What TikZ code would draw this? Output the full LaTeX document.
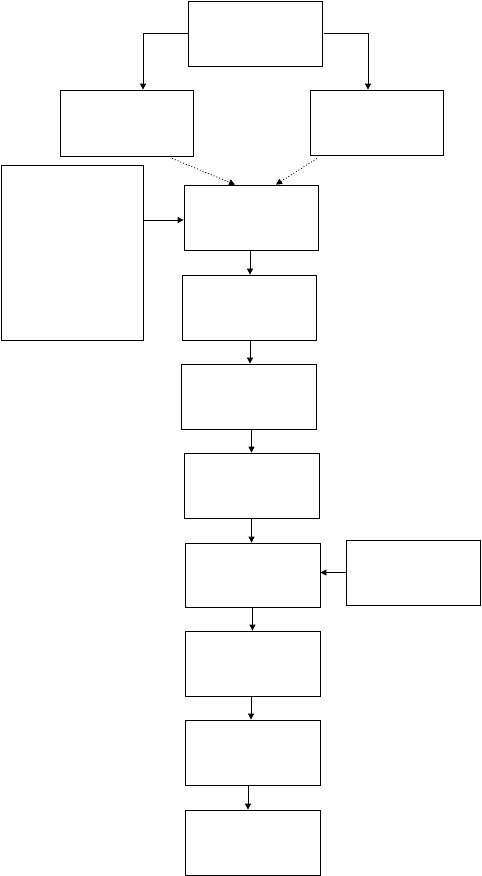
\documentclass[tikz,border=0pt]{standalone}
\usetikzlibrary{arrows.meta}
\begin{document}
\begin{tikzpicture}[x=1pt,y=-1pt,
  box/.style={draw,line width=0.8pt,rectangle,inner sep=0pt,minimum width=134pt,minimum height=65pt},
  arr/.style={line width=0.8pt,-{Triangle[length=6pt,width=6pt]}},
  darr/.style={line width=0.8pt,dash pattern=on 1pt off 2pt,-{Triangle[length=6pt,width=6pt]}}]
\useasboundingbox (0,0) rectangle (482,876);
\node[box] (top) at (255,33.5) {};
\node[box,minimum width=133pt,minimum height=66pt] (L) at (126.5,123) {};
\node[box,minimum width=133pt] (R) at (376.5,122.5) {};
\node[box,minimum width=142pt,minimum height=175pt] (big) at (72,252.5) {};
\node[box] (b1) at (251,217.5) {};
\node[box] (b2) at (249,307.5) {};
\node[box,minimum width=135pt] (b3) at (248.5,396.5) {};
\node[box,minimum width=135pt] (b4) at (251.5,485.5) {};
\node[box,minimum width=135pt,minimum height=64pt] (b5) at (252.5,575) {};
\node[box] (side) at (413,572.5) {};
\node[box,minimum width=135pt] (b6) at (252.5,663.5) {};
\node[box,minimum width=135pt] (b7) at (252.5,752.5) {};
\node[box,minimum width=135pt] (b8) at (252.5,842.5) {};
% top splits
\draw[arr] (top.west) -| ([xshift=16.5pt]L.north);
\draw[arr] ([xshift=1.5pt]top.east) -| ([xshift=-8.5pt]R.north);
% dotted
\draw[darr] ([xshift=45.5pt,yshift=-2pt]L.south) -- ([xshift=-16pt]b1.north);
\draw[darr] ([xshift=-59.5pt,yshift=-3pt]R.south) -- ([xshift=25pt]b1.north);
% big to b1
\coordinate (bA) at ([yshift=32.5pt]big.east);
\draw[arr] (bA) -- (bA -| b1.west);
% chain
\draw[arr] ([xshift=-1pt]b1.south) -- ([xshift=-1pt]b1.south |- b2.north);
\draw[arr] ([xshift=1pt]b2.south) -- ([xshift=1pt]b2.south |- b3.north);
\draw[arr] (b4.north |- b3.south) -- (b4.north);
\draw[arr] (b4.south) -- (b4.south |- b5.north);
\draw[arr] (b5.south) -- (b5.south |- b6.north);
\draw[arr] ([xshift=-1.5pt]b6.south) -- ([xshift=-1.5pt]b6.south |- b7.north);
\draw[arr] ([xshift=-4.5pt]b7.south) -- ([xshift=-4.5pt]b7.south |- b8.north);
\draw[arr] (side.west) -- (side.west -| b5.east);
\end{tikzpicture}
\end{document}
